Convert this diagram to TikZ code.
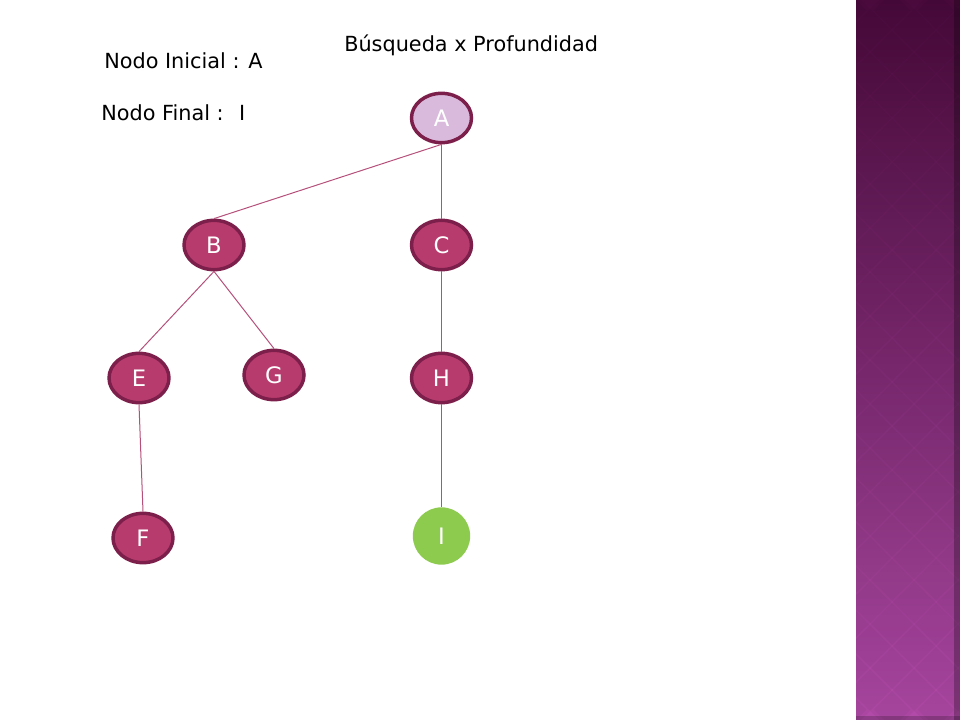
\documentclass[tikz,border=0pt]{standalone}
\usepackage{fontspec}
\setmainfont{DejaVu Sans}
\usetikzlibrary{shapes.geometric}

\definecolor{nodofill}{HTML}{B83B6D}
\definecolor{nodoborde}{HTML}{7C1F4A}
\definecolor{nodoinicio}{HTML}{D9BADD}
\definecolor{nodometa}{HTML}{8DCB4F}
\definecolor{arista}{HTML}{B5507A}
\definecolor{franjaarriba}{HTML}{4A0A3C}
\definecolor{franjaabajo}{HTML}{B24BA9}

\begin{document}
\begin{tikzpicture}[x=0.75pt,y=-0.75pt,
		nodo/.style={ellipse, draw=nodoborde, line width=2.6pt, fill=nodofill,
				text=white, minimum width=45pt, minimum height=37pt, inner sep=0pt,
				font=\fontsize{17}{17}\selectfont},
		meta/.style={circle, fill=nodometa, text=white, minimum size=43pt,
				inner sep=0pt, font=\fontsize{17}{17}\selectfont},
		texto/.style={inner sep=0pt, font=\fontsize{15.6}{15.6}\selectfont},
		aristas/.style={arista, line width=0.75pt}]
		% Page size
		\useasboundingbox (0,0) rectangle (960,720);

		% Purple strip on the right
		\shade[top color=franjaarriba, bottom color=franjaabajo] (856,0) rectangle (960,720);
		\begin{scope}
			\clip (856,0) rectangle (960,720);
			\foreach \k in {-720,-676,...,960} {
					\draw[black, opacity=0.03, line width=22pt] (856+\k,0) -- ++(720,720);
					\draw[black, opacity=0.03, line width=22pt] (856+\k,720) -- ++(720,-720);
				}
			\fill[black, opacity=0.25] (954,0) rectangle (960,720);
			\fill[black, opacity=0.2] (856,716) rectangle (960,720);
		\end{scope}

		% Titles
		\node[texto, anchor=base west] (titulo) at (344,52) {Búsqueda x Profundidad};
		\node[texto, anchor=base west] (inicial) at (104,69) {Nodo Inicial : A};
		\node[texto, anchor=base west] (final) at (101,121) {Nodo Final : \ I};

		% Tree nodes
		\node[nodo, fill=nodoinicio] (A) at (441.5,118) {A};
		\node[nodo] (B) at (214,245) {B};
		\node[nodo] (C) at (441.5,245) {C};
		\node[nodo] (E) at (139,378) {E};
		\node[nodo] (G) at (274,375) {G};
		\node[nodo] (H) at (441.5,378) {H};
		\node[nodo] (F) at (143,538) {F};
		\node[meta] (I) at (441.5,536) {I};

		% Edges
		\draw[aristas] (A.south) -- (B.north);
		\draw[aristas] (A.south) -- (C.north);
		\draw[aristas] (B.south) -- (E.north);
		\draw[aristas] (B.south) -- (G.north);
		\draw[aristas] (E.south) -- (F.north);
		\draw[aristas] (C.south) -- (H.north);
		\draw[aristas] (H.south) -- (I.north);
	\end{tikzpicture}
\end{document}
